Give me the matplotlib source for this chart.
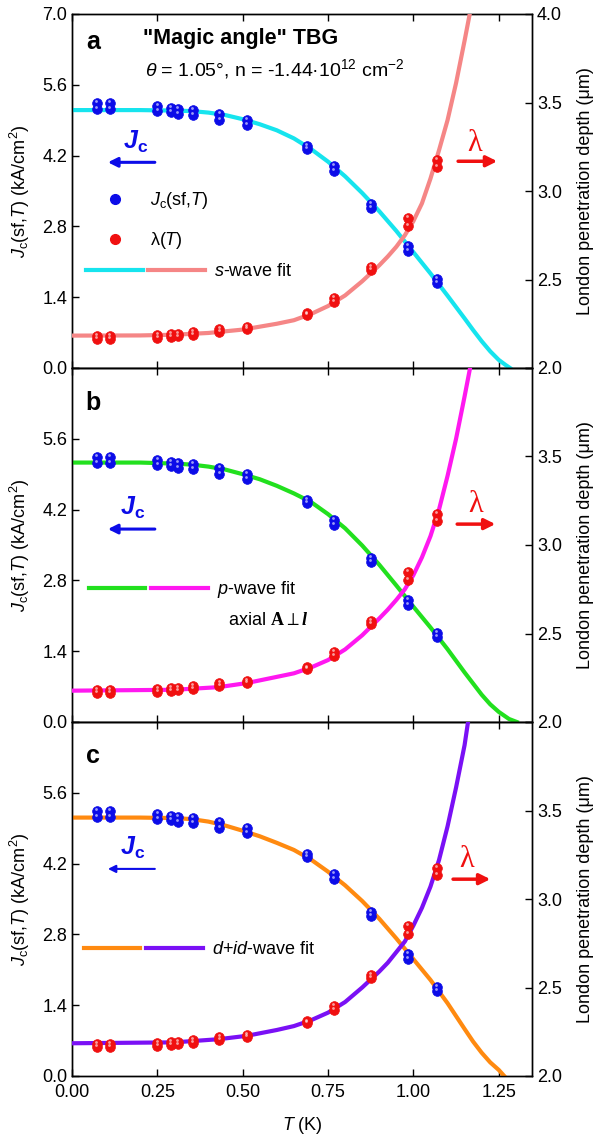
import numpy as np
import matplotlib
matplotlib.use('Agg')
import matplotlib.pyplot as plt
import matplotlib.transforms as mtransforms
from matplotlib.lines import Line2D
from matplotlib.legend_handler import HandlerTuple

plt.rcParams['font.family'] = ['Liberation Sans', 'DejaVu Sans']
plt.rcParams['mathtext.fontset'] = 'custom'
plt.rcParams['mathtext.rm'] = 'Liberation Sans'
plt.rcParams['mathtext.it'] = 'Liberation Sans:italic'
plt.rcParams['mathtext.bf'] = 'Liberation Sans:bold'
plt.rcParams['mathtext.sf'] = 'Liberation Sans:bold:italic'
plt.rcParams['mathtext.tt'] = 'Liberation Serif:bold'
plt.rcParams['mathtext.cal'] = 'Liberation Serif:bold:italic'

# ---------------- data ----------------
T_data = [0.072, 0.111, 0.250, 0.290, 0.310, 0.353, 0.432, 0.512, 0.688, 0.768, 0.876, 0.985, 1.069]
Jc_upper = [5.25, 5.25, 5.18, 5.15, 5.12, 5.10, 5.02, 4.90, 4.39, 4.00, 3.24, 2.41, 1.76]
Jc_lower = [5.13, 5.12, 5.09, 5.07, 5.03, 5.01, 4.91, 4.81, 4.34, 3.90, 3.17, 2.32, 1.69]
lam_upper = [2.181, 2.181, 2.187, 2.190, 2.193, 2.202, 2.218, 2.234, 2.308, 2.398, 2.572, 2.845, 3.175]
lam_lower = [2.163, 2.163, 2.172, 2.175, 2.178, 2.187, 2.202, 2.219, 2.297, 2.372, 2.553, 2.805, 3.135]

# s-wave fit (panel a)
T_fit_Jc_s = [0, 0.1, 0.2, 0.3, 0.35, 0.4, 0.45, 0.5, 0.55, 0.6, 0.65, 0.7, 0.75, 0.8, 0.85, 0.9,
              0.95, 1.0, 1.05, 1.1, 1.15, 1.175, 1.2, 1.225, 1.25, 1.27, 1.283]
Jc_fit_s = [5.10, 5.10, 5.10, 5.09, 5.08, 5.05, 5.00, 4.92, 4.82, 4.70, 4.54, 4.33, 4.08, 3.79, 3.46, 3.10,
            2.71, 2.29, 1.87, 1.43, 0.98, 0.75, 0.53, 0.33, 0.16, 0.06, 0.0]
T_fit_lam_s = [0, 0.2, 0.3, 0.4, 0.5, 0.6, 0.65, 0.7, 0.75, 0.8, 0.85, 0.9, 0.925, 0.95, 0.975,
               1.0, 1.025, 1.05, 1.075, 1.1, 1.125, 1.15, 1.165, 1.175]
lam_fit_s = [2.183, 2.184, 2.188, 2.198, 2.217, 2.250, 2.270, 2.305, 2.350, 2.410, 2.490, 2.580, 2.630,
             2.685, 2.750, 2.830, 2.930, 3.070, 3.230, 3.400, 3.610, 3.850, 4.00, 4.12]

# p-wave fit (panel b)
T_fit_Jc_p = [0, 0.1, 0.2, 0.3, 0.35, 0.4, 0.45, 0.5, 0.55, 0.6, 0.65, 0.7, 0.75, 0.8, 0.85, 0.9,
              0.95, 1.0, 1.05, 1.1, 1.15, 1.175, 1.2, 1.225, 1.25, 1.28, 1.303]
Jc_fit_p = [5.13, 5.13, 5.13, 5.11, 5.09, 5.05, 4.99, 4.90, 4.80, 4.67, 4.52, 4.35, 4.11, 3.83, 3.49, 3.11,
            2.70, 2.28, 1.87, 1.44, 0.98, 0.76, 0.54, 0.35, 0.20, 0.06, 0.0]
T_fit_lam_p = [0, 0.3, 0.43, 0.512, 0.6, 0.65, 0.7, 0.75, 0.8, 0.85, 0.9, 0.925, 0.95, 0.975,
               1.0, 1.025, 1.05, 1.075, 1.1, 1.125, 1.15, 1.168, 1.18]
lam_fit_p = [2.177, 2.182, 2.197, 2.220, 2.255, 2.275, 2.308, 2.350, 2.410, 2.490, 2.585, 2.635,
             2.690, 2.750, 2.830, 2.930, 3.050, 3.200, 3.390, 3.600, 3.840, 4.02, 4.15]

# d+id-wave fit (panel c)
T_fit_Jc_d = [0, 0.1, 0.2, 0.3, 0.35, 0.4, 0.45, 0.5, 0.55, 0.6, 0.65, 0.7, 0.75, 0.8, 0.85, 0.9,
              0.95, 1.0, 1.05, 1.1, 1.15, 1.175, 1.2, 1.225, 1.25, 1.266]
Jc_fit_d = [5.11, 5.11, 5.11, 5.10, 5.08, 5.03, 4.95, 4.85, 4.74, 4.61, 4.47, 4.28, 4.04, 3.77, 3.46, 3.11,
            2.72, 2.31, 1.90, 1.44, 0.93, 0.68, 0.46, 0.27, 0.12, 0.0]
T_fit_lam_d = [0, 0.3, 0.43, 0.512, 0.6, 0.65, 0.7, 0.75, 0.8, 0.85, 0.9, 0.925, 0.95, 0.975,
               1.0, 1.025, 1.05, 1.075, 1.1, 1.125, 1.15, 1.16, 1.17]
lam_fit_d = [2.185, 2.190, 2.208, 2.227, 2.260, 2.282, 2.315, 2.358, 2.418, 2.500, 2.590, 2.640,
             2.700, 2.760, 2.850, 2.950, 3.070, 3.220, 3.410, 3.630, 3.870, 4.00, 4.13]

x_ticks = [0.00, 0.25, 0.50, 0.75, 1.00, 1.25]
jc_ticks = [0.0, 1.4, 2.8, 4.2, 5.6, 7.0]
lam_ticks = [2.0, 2.5, 3.0, 3.5, 4.0]

panels = [
    dict(letter='a', Tj=T_fit_Jc_s, Jj=Jc_fit_s, Tl=T_fit_lam_s, Ll=lam_fit_s,
         cj='#16E4EE', cl='#F58686', label='$s$-wave fit'),
    dict(letter='b', Tj=T_fit_Jc_p, Jj=Jc_fit_p, Tl=T_fit_lam_p, Ll=lam_fit_p,
         cj='#22E01E', cl='#FF18F0', label='$p$-wave fit'),
    dict(letter='c', Tj=T_fit_Jc_d, Jj=Jc_fit_d, Tl=T_fit_lam_d, Ll=lam_fit_d,
         cj='#FF8A10', cl='#7A10F5', label='$d$+$id$-wave fit'),
]

BLUE = '#0C0CE8'
RED = '#F01010'
FS = 13

fig = plt.figure(figsize=(6, 11.4), dpi=100)
left, width = 0.12, 0.767
h = 354 / 1140
bottoms = [1 - 368 / 1140, 1 - 722 / 1140, 1 - 1076 / 1140]


def spheres(ax, x, y, color):
    ax.plot(x, y, 'o', ms=7, color=color, mec=color, mew=0.5, zorder=5)
    tr = mtransforms.offset_copy(ax.transData, fig=fig, x=-0.6, y=1.4, units='points')
    ax.plot(x, y, 'o', ms=2.0, color='white', mec='none', alpha=0.6, transform=tr, zorder=6)


for i, p in enumerate(panels):
    ax = fig.add_axes([left, bottoms[i], width, h])
    ax2 = ax.twinx()
    ax.set_xlim(0, 1.348)
    ax.set_ylim(0, 7.0)
    ax2.set_ylim(2.0, 4.0)

    ax.plot(p['Tj'], p['Jj'], color=p['cj'], lw=3.0, zorder=3, solid_joinstyle='round')
    ax2.plot(p['Tl'], p['Ll'], color=p['cl'], lw=3.0, zorder=3, solid_joinstyle='round')
    spheres(ax, T_data, Jc_lower, BLUE)
    spheres(ax, T_data, Jc_upper, BLUE)
    spheres(ax2, T_data, lam_lower, RED)
    spheres(ax2, T_data, lam_upper, RED)

    ax.set_xticks(x_ticks)
    ax.set_yticks(jc_ticks)
    ax2.set_yticks(lam_ticks)
    ax.set_yticklabels([f'{v:.1f}' for v in jc_ticks])
    ax2.set_yticklabels([f'{v:.1f}' for v in lam_ticks])
    if i > 0:
        ax.get_yticklabels()[-1].set_visible(False)
        ax2.get_yticklabels()[-1].set_visible(False)
    ax.tick_params(axis='both', direction='in', length=5, width=1, labelsize=FS, top=True)
    ax.tick_params(axis='x', pad=6)
    ax2.tick_params(axis='y', direction='in', length=5, width=1, labelsize=FS)
    if i < 2:
        ax.tick_params(axis='x', labelbottom=False)
    else:
        ax.set_xticklabels([f'{v:.2f}' for v in x_ticks])
        ax.set_xlabel('$T$ (K)', fontsize=FS, labelpad=10)
    for a in (ax, ax2):
        for s in a.spines.values():
            s.set_linewidth(1.0)
    ax.set_ylabel(r'$J_\mathrm{c}$(sf,$T$) (kA/cm$^2$)', fontsize=FS, labelpad=7)
    ax2.set_ylabel('London penetration depth (\u03bcm)', fontsize=FS, labelpad=11)
    ax2.set_zorder(ax.get_zorder() + 1)
    ax.patch.set_visible(True)
    ax2.patch.set_visible(False)

    ax.text(0.030, {0: 0.900, 1: 0.881, 2: 0.884}[i], p['letter'], transform=ax.transAxes,
            fontsize=18, fontweight='bold', va='baseline', ha='left')

    # J_c label with arrow
    jc_pos = {0: (0.111, 0.618, 0.581), 1: (0.104, 0.585, 0.545), 2: (0.104, 0.624, 0.585)}[i]
    ax.text(jc_pos[0], jc_pos[1], r'$\mathsf{J}_\mathbf{c}$', transform=ax.transAxes,
            fontsize=18, color=BLUE, va='baseline', ha='left')
    ax.annotate('', xy=(0.078, jc_pos[2]), xytext=(0.180, jc_pos[2]), xycoords='axes fraction',
                arrowprops=dict(arrowstyle='-|>', color=BLUE, lw=2.2 if i < 2 else 1.5,
                                mutation_scale=14 if i < 2 else 11, shrinkA=0, shrinkB=0))
    # lambda label with arrow
    lp = {0: (0.874, 0.612, 0.584, 0.839, 0.924), 1: (0.878, 0.593, 0.559, 0.837, 0.920),
          2: (0.857, 0.590, 0.556, 0.828, 0.909)}[i]
    ax.text(lp[0], lp[1], '\u03bb', transform=ax.transAxes, fontsize=22, color=RED,
            family='Liberation Serif', va='baseline', ha='center')
    ax.annotate('', xy=(lp[4], lp[2]), xytext=(lp[3], lp[2]), xycoords='axes fraction',
                arrowprops=dict(arrowstyle='-|>', color=RED, lw=2.5,
                                mutation_scale=16, shrinkA=0, shrinkB=0))

    # legends
    h_fit = (Line2D([], [], color=p['cj'], lw=3.0), Line2D([], [], color=p['cl'], lw=3.0))
    if i == 0:
        hb = Line2D([], [], ls='none', marker='o', ms=7, color=BLUE)
        hr = Line2D([], [], ls='none', marker='o', ms=7, color=RED)
        leg1 = ax.legend([hb, hr], [r'$J_\mathrm{c}$(sf,$T$)', '\u03bb($T$)'],
                         loc='center left', bbox_to_anchor=(0.055, 0.416), frameon=False,
                         fontsize=FS, handlelength=2.0, handletextpad=0.9, labelspacing=1.05,
                         borderpad=0, borderaxespad=0)
        ax.add_artist(leg1)
    lg_pos = {0: (0.030, 0.272), 1: (0.036, 0.373), 2: (0.025, 0.356)}[i]
    ax.legend([h_fit], [p['label']], handler_map={tuple: HandlerTuple(ndivide=None, pad=0.3)},
              loc='center left', bbox_to_anchor=lg_pos, frameon=False, fontsize=FS,
              handlelength=6.6, handletextpad=0.5, borderpad=0, borderaxespad=0)
    if i == 1:
        ax.text(0.339, 0.274, r'axial $\mathtt{A}\perp\mathcal{l}$', transform=ax.transAxes,
                fontsize=FS, va='baseline', ha='left')
    if i == 0:
        ax.text(0.367, 0.915, '"Magic angle" TBG', transform=ax.transAxes, fontsize=15.5,
                fontweight='bold', ha='center', va='baseline')
        ax.text(0.159, 0.827, '$\\theta$ = 1.05\u00b0, n = -1.44\u00b710$^{12}$ cm$^{-2}$',
                transform=ax.transAxes, fontsize=14, ha='left', va='baseline')

fig.align_ylabels()
fig.savefig('out.png', dpi=100)
